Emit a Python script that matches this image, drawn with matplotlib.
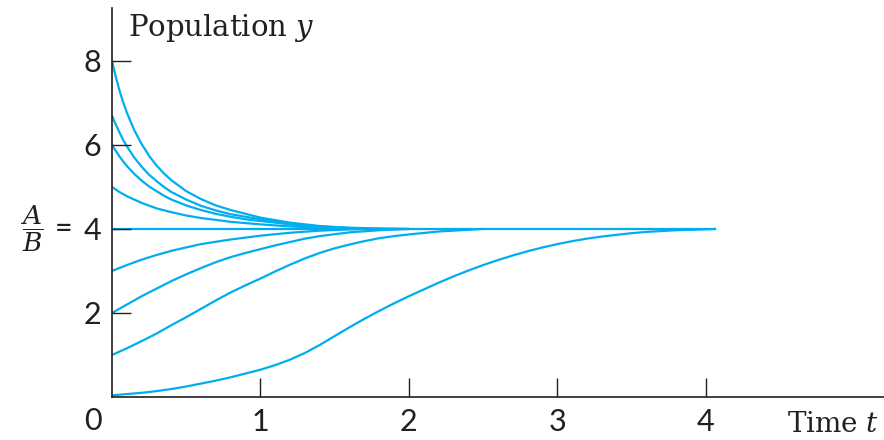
import matplotlib
matplotlib.use('Agg')
import matplotlib.pyplot as plt

# population curves, each starting from a different y(0)
t_8 = [0, 0.0125, 0.025, 0.05, 0.075, 0.1, 0.15, 0.2, 0.25, 0.3, 0.35, 0.4, 0.5, 0.6, 0.7, 0.8, 0.9,
       1.0, 1.2, 1.4, 1.6, 1.72]
y_8 = [8.0, 7.81, 7.63, 7.30, 7.02, 6.77, 6.35, 6.02, 5.74, 5.51, 5.32, 5.16, 4.90, 4.71, 4.56, 4.45, 4.36,
       4.27, 4.15, 4.07, 4.02, 4.0]

t_67 = [0, 0.0125, 0.025, 0.05, 0.075, 0.1, 0.15, 0.2, 0.25, 0.3, 0.35, 0.4, 0.5, 0.6, 0.7, 0.8, 0.9,
        1.0, 1.2, 1.4, 1.6, 1.8, 2.0]
y_67 = [6.7, 6.59, 6.49, 6.30, 6.12, 5.97, 5.70, 5.48, 5.29, 5.14, 5.00, 4.88, 4.70, 4.55, 4.44, 4.35, 4.29,
        4.23, 4.12, 4.06, 4.03, 4.01, 4.0]

t_6 = [0, 0.025, 0.05, 0.075, 0.1, 0.15, 0.2, 0.25, 0.3, 0.35, 0.4, 0.5, 0.6, 0.7, 0.8, 0.9,
       1.0, 1.2, 1.4, 1.6, 1.72]
y_6 = [6.0, 5.86, 5.73, 5.61, 5.50, 5.31, 5.15, 5.01, 4.90, 4.79, 4.70, 4.56, 4.45, 4.36, 4.29, 4.23,
       4.19, 4.11, 4.05, 4.02, 4.0]

t_5 = [0, 0.05, 0.1, 0.2, 0.3, 0.4, 0.5, 0.6, 0.8, 1.0, 1.2, 1.4, 1.6, 2.0]
y_5 = [5.0, 4.88, 4.78, 4.62, 4.49, 4.40, 4.32, 4.26, 4.17, 4.11, 4.06, 4.03, 4.01, 4.0]

t_eq = [0, 4.07]
y_eq = [4.0, 4.0]

t_3 = [0, 0.1, 0.2, 0.3, 0.4, 0.5, 0.6, 0.8, 1.0, 1.2, 1.4, 1.6, 1.72]
y_3 = [3.0, 3.14, 3.27, 3.38, 3.48, 3.56, 3.64, 3.75, 3.84, 3.91, 3.96, 3.99, 4.0]

t_2 = [0, 0.1, 0.2, 0.3, 0.4, 0.5, 0.6, 0.7, 0.8, 0.9, 1.0, 1.1, 1.2, 1.3, 1.4, 1.6, 1.8, 2.0]
y_2 = [2.0, 2.20, 2.40, 2.58, 2.76, 2.92, 3.07, 3.21, 3.33, 3.43, 3.52, 3.61, 3.69, 3.77, 3.83, 3.92, 3.97, 4.0]

t_1 = [0, 0.1, 0.2, 0.3, 0.4, 0.5, 0.6, 0.7, 0.8, 0.9, 1.0, 1.1, 1.2, 1.3, 1.4, 1.5, 1.6, 1.7, 1.8, 1.9,
       2.0, 2.2, 2.5]
y_1 = [1.0, 1.16, 1.33, 1.51, 1.71, 1.90, 2.10, 2.30, 2.49, 2.66, 2.82, 2.99, 3.15, 3.30, 3.43, 3.54, 3.63,
       3.71, 3.78, 3.83, 3.87, 3.94, 4.0]

t_0 = [0, 0.1, 0.2, 0.3, 0.4, 0.5, 0.6, 0.7, 0.8, 0.9, 1.0, 1.1, 1.2, 1.3, 1.4, 1.5, 1.6, 1.7, 1.8, 1.9,
       2.0, 2.1, 2.2, 2.3, 2.4, 2.5, 2.6, 2.7, 2.8, 2.9, 3.0, 3.1, 3.2, 3.3, 3.4, 3.5, 3.6, 3.7, 3.8, 3.9, 4.07]
y_0 = [0.04, 0.07, 0.10, 0.14, 0.19, 0.25, 0.32, 0.39, 0.47, 0.56, 0.65, 0.76, 0.89, 1.05, 1.24, 1.45, 1.66,
       1.86, 2.05, 2.23, 2.40, 2.56, 2.72, 2.87, 3.01, 3.14, 3.26, 3.37, 3.47, 3.56, 3.64, 3.71, 3.77, 3.82,
       3.86, 3.90, 3.93, 3.95, 3.97, 3.98, 4.0]

x_ticks = [1, 2, 3, 4]
y_ticks = [2, 4, 6, 8]

curves = [(t_8, y_8), (t_67, y_67), (t_6, y_6), (t_5, y_5), (t_eq, y_eq),
          (t_3, y_3), (t_2, y_2), (t_1, y_1), (t_0, y_0)]

plt.rcParams['mathtext.fontset'] = 'dejavuserif'
ink = '#231f20'
blue = '#00aeef'
sans = 'Lato'

fig = plt.figure(figsize=(8.84, 4.40), dpi=100)
ax = fig.add_axes([112/884, 43/440, 772/884, 389/440])

for t, y in curves:
    ax.plot(t, y, color=blue, lw=1.6, solid_capstyle='butt', solid_joinstyle='round', zorder=2)

ax.set_xlim(0, 5.2)
ax.set_ylim(0, 9.26)
ax.spines['top'].set_visible(False)
ax.spines['right'].set_visible(False)
for s in ['left', 'bottom']:
    ax.spines[s].set_color(ink)
    ax.spines[s].set_linewidth(1.2)
ax.set_axisbelow(False)

ax.set_xticks(x_ticks)
ax.set_yticks(y_ticks)
ax.tick_params(direction='in', length=14, width=1.0, color=ink,
               labelsize=22, labelcolor=ink)
ax.tick_params(axis='x', pad=8)
ax.tick_params(axis='y', pad=8)
for lab in ax.get_xticklabels() + ax.get_yticklabels():
    lab.set_family(sans)

# origin label and the equilibrium A/B
ax.annotate('0', xy=(0, 0), xytext=(-14, -17), textcoords='offset points',
            ha='center', va='center', fontsize=22, color=ink, family=sans)
ax.annotate('=', xy=(0, 4), xytext=(-35, 0), textcoords='offset points',
            ha='center', va='center', fontsize=22, color=ink, family=sans)
ax.annotate(r'$\dfrac{A}{B}$', xy=(0, 4), xytext=(-58, 0), textcoords='offset points',
            ha='center', va='center', fontsize=19, color=ink)

fig.text(128/884, (440-36)/440, r'Population $y$', ha='left', va='baseline',
         fontsize=21, color=ink, family='DejaVu Serif')
fig.text(879/884, (440-424)/440, r'Time $t$', ha='right', va='center',
         fontsize=20, color=ink, family='DejaVu Serif')

fig.savefig('out.png', dpi=100)
